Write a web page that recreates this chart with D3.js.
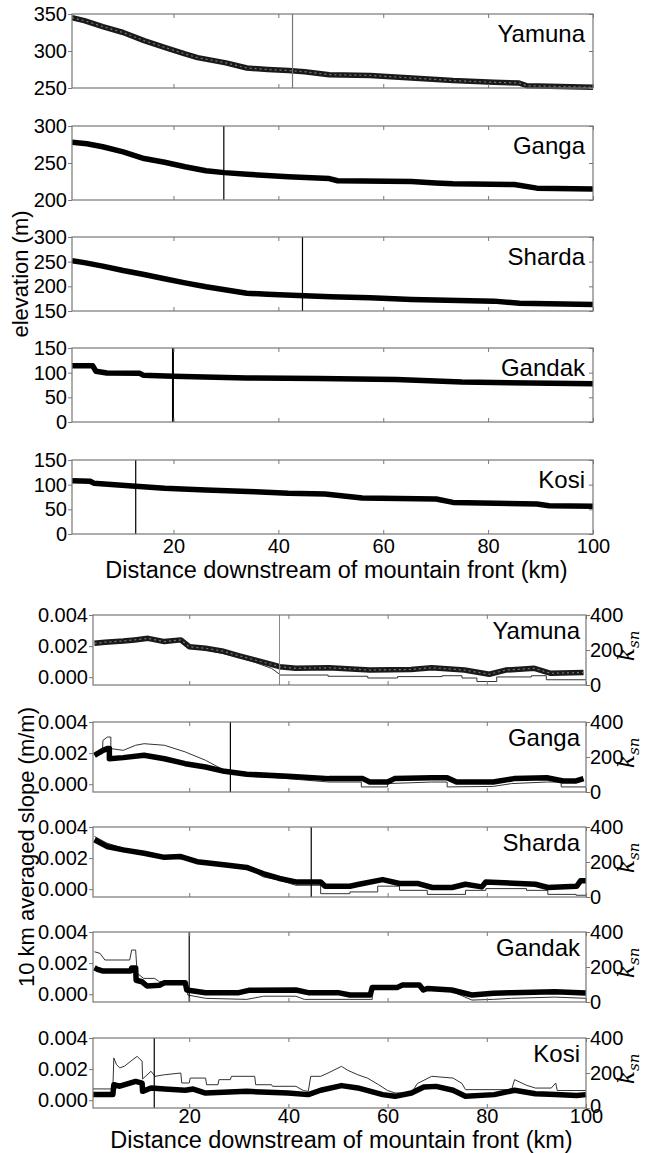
<!DOCTYPE html>
<html>
<head>
<meta charset="utf-8">
<script src="https://cdn.jsdelivr.net/npm/d3@7.9.0/dist/d3.min.js"></script>
<style>
  html, body { margin: 0; padding: 0; background: #fff; }
  svg { display: block; font-family: "Liberation Sans", Arial, sans-serif; }
</style>
</head>
<body>
<svg id="chart" width="645" height="1153"></svg>
<script>
// ---- data ----
const rivers = ['Yamuna', 'Ganga', 'Sharda', 'Gandak', 'Kosi'];

// elevation (m) vs distance (km)
const yamunaElev = [[0.65,345],[3,341],[6.5,333],[10.4,325],[14.4,314],[18.3,305],[22.2,296],[24.6,291],[30,284],[34,277],[38,275],[41.9,273.6],[45,272],[49.7,268],[57.5,267],[65.4,263.6],[73.3,260],[81.1,257.7],[85.9,256.8],[87.4,253],[100,251]];
const gangaElev = [[0.65,278],[3.5,276],[6.5,272],[10.4,265],[14.4,256],[18.3,251],[22.2,245],[26.2,239.6],[29.7,237],[34,234.7],[41.9,231.5],[49.7,229],[51.3,226],[65.4,225],[70,223],[73.3,222],[85,221],[89.3,216],[100,215]];
const shardaElev = [[0.65,252],[3,248],[6.5,241],[10.4,232],[14.4,224],[18.3,215.5],[22.2,207],[26.2,199],[30.1,192.7],[34,186],[37.9,184],[45,180.7],[50,179],[57.5,177],[65.4,173.5],[81.1,170],[86,165.5],[100,163]];
const gandakElev = [[0.65,114],[4.6,114],[5.2,103],[7.3,99.3],[13.5,99],[14.2,95],[19.9,92.7],[34,89.3],[47.7,88],[62.5,86],[75,81],[100,77.3]];
const kosiElev = [[0.65,108],[4.1,107],[4.8,103],[12.8,96.6],[18.3,92.6],[26.2,89],[35.6,85.8],[41.9,82.4],[48.9,81],[56,73],[70.1,71],[73.3,64],[89.3,60.8],[91.6,57.4],[100,56]];

// 10 km averaged slope (m/m)
const yamunaSlope = [[0.9,0.00218],[3,0.00225],[6.7,0.00233],[9,0.0024],[11.7,0.0025],[15,0.00229],[18.3,0.0024],[20,0.00196],[23.3,0.00186],[26.6,0.00169],[29.9,0.00139],[33.2,0.00111],[36.6,0.00083],[38.2,0.00068],[41.5,0.00057],[48.2,0.00061],[56.4,0.00046],[64.7,0.0005],[68.9,0.00061],[75.5,0.00046],[80.5,0.00019],[83.8,0.00046],[89.6,0.00057],[92.9,0.00025],[99.5,0.00031]];
const gangaSlope = [[0.9,0.00186],[2.6,0.00218],[3.5,0.00229],[3.9,0.00229],[3.9,0.00164],[6.7,0.00171],[10.9,0.00186],[15,0.00164],[19.2,0.00132],[23.3,0.00111],[27.1,0.00083],[31.6,0.00064],[39.9,0.00051],[48.2,0.00036],[55,0.00036],[56.4,0.00014],[60,0.00014],[61.4,0.00036],[68.9,0.00042],[72,0.00042],[73.9,0.00014],[81.3,0.00014],[85.5,0.00036],[92.1,0.00042],[95.4,0.00021],[98,0.00021],[99.5,0.00036]];
const shardaSlope = [[0.9,0.00318],[3.4,0.00275],[6.7,0.00253],[10.9,0.00231],[15,0.00205],[18.3,0.0021],[21.6,0.00177],[27.4,0.00156],[31.6,0.0014],[34.9,0.00101],[38.2,0.00069],[41.5,0.00047],[46.5,0.00047],[47.4,0.00019],[52.4,0.00019],[54,0.0003],[59,0.00062],[62.4,0.00037],[66,0.00037],[69,0.00011],[73,0.00011],[75.7,0.00032],[79,0.00015],[79.8,0.00047],[89.8,0.00032],[92.3,0.00011],[98.1,0.00019],[98.9,0.00054],[100,0.00054]];
const gandakSlope = [[0.9,0.0017],[1.5,0.0016],[2.5,0.0015],[8.2,0.0015],[8.4,0.00169],[9.2,0.00169],[9.3,0.0009],[10.5,0.0008],[11.5,0.00053],[14,0.00058],[15,0.00074],[19.2,0.00074],[19.5,0.00027],[23.3,0.0001],[30,0.0001],[32,0.00025],[41.5,0.00027],[44,0.0001],[50,0.0001],[52.4,-0.00005],[56.5,-0.00005],[56.9,0.00044],[62,0.00044],[63,0.00059],[66.4,0.00059],[67.2,0.00027],[68,0.00037],[72.9,0.00027],[77,-0.00005],[81.3,0.00006],[85,0.0001],[93.7,0.00016],[100,0.00008]];
const kosiSlope = [[0.6,0.00036],[4.6,0.00036],[4.8,0.001],[6,0.0009],[9.2,0.00121],[10.5,0.0011],[10.6,0.00057],[12.3,0.00079],[15,0.00072],[19.2,0.00064],[20.8,0.00072],[23.3,0.00046],[31.6,0.00057],[39.9,0.00046],[44,0.00036],[46.5,0.00064],[50.7,0.00094],[54,0.00079],[59,0.00036],[61.5,0.00025],[64.8,0.00046],[67.3,0.00085],[69.8,0.00089],[73.2,0.00064],[75.7,0.00025],[81.5,0.00036],[85.6,0.00064],[89.8,0.00042],[93.9,0.00036],[98.1,0.0003],[100,0.00036]];

// normalized steepness index k_sn (right axis)
const yamunaKsn = [[0.9,229],[3,236],[6,240],[9,252],[11.7,263],[15,245],[18.3,248],[20,212],[23.3,200],[26.6,181],[29.9,158],[33.2,130],[36.6,95],[38.2,62],[38.2,57],[48,57],[48,50],[56,50],[56,40],[62,40],[62,48],[71,48],[71,53],[75,53],[75,40],[78,40],[78,20],[82,20],[82,46],[89,46],[89,53],[92,53],[92,30],[100,30]];
const gangaKsn = [[0.9,219],[2.5,219],[2.6,295],[3.5,314],[4.2,314],[4.2,248],[6.7,238],[9.2,267],[10.9,276],[15,267],[19.2,229],[23.3,181],[27.1,124],[31.6,95],[39.9,76],[48.2,57],[54.7,57],[54.7,29],[60,29],[60,48],[68.9,57],[72,57],[72,29],[81.3,32],[85,48],[92.1,57],[95,57],[95,29],[100,29]];
const shardaKsn = [[0.9,346],[3.4,308],[6.7,279],[15,231],[21.6,206],[31.6,169],[34.9,115],[38.2,96],[41.5,67],[46.5,67],[46.5,19],[52.4,19],[52.4,29],[58,29],[58,62],[62.4,62],[62.4,38],[68,38],[68,15],[75.7,15],[75.7,38],[79.8,38],[79.8,48],[88,48],[88,38],[92.3,38],[92.3,15],[98,15],[98,10],[100,10]];
const gandakKsn = [[0.9,287],[2,278],[3,240],[8,240],[8.4,297],[9.2,297],[9.5,164],[10.8,135],[13,135],[14,116],[19.5,116],[19.7,40],[23.3,21],[31.6,15],[35,33],[41.5,33],[43.2,15],[52.4,15],[56.9,15],[56.9,84],[62,84],[63,97],[66.4,97],[67.2,69],[73,60],[77,11],[81.3,15],[85,21],[93.7,28],[100,21]];
const kosiKsn = [[0.6,109],[4.6,109],[4.8,286],[5.3,250],[6,229],[7,240],[8.6,276],[9.5,295],[10.5,267],[10.6,166],[12.3,210],[13.1,181],[15,190],[18.3,200],[18.5,143],[20,143],[20.2,171],[23.3,171],[23.5,133],[25.8,133],[26,162],[28.3,162],[28.5,181],[33.2,181],[33.4,133],[36.6,133],[36.8,124],[41.5,124],[43,100],[44,95],[44.5,181],[46.5,181],[48,200],[50.7,238],[52,215],[54,190],[56,170],[58.2,133],[60,100],[61.5,86],[64.8,86],[66,140],[68.9,181],[73.2,171],[75,140],[75.7,105],[85,105],[85.6,162],[88,130],[89.8,114],[93,114],[93.9,143],[94.2,100],[100,100]];

// mountain-front reference lines (km)
const elevMarks = [42.7, 29.6, 44.6, 19.9, 12.8];
const slopeMarks = [38.2, 28.3, 44.6, 20, 12.95];

// axis domains and ticks
const elevDomains = [[250, 350], [200, 300], [150, 300], [0, 150], [0, 150]];
const elevTicks = [[250, 300, 350], [200, 250, 300], [150, 200, 250, 300], [0, 50, 100, 150], [0, 50, 100, 150]];
const slopeDomain = [-0.0005, 0.004];
const slopeTicks = [0, 0.002, 0.004];
const ksnDomain = [0, 400];
const ksnTicks = [0, 200, 400];
const distTicks = [20, 40, 60, 80, 100];

const elevData = [yamunaElev, gangaElev, shardaElev, gandakElev, kosiElev];
const slopeData = [yamunaSlope, gangaSlope, shardaSlope, gandakSlope, kosiSlope];
const ksnData = [yamunaKsn, gangaKsn, shardaKsn, gandakKsn, kosiKsn];

// ---- layout ----
const svg = d3.select('#chart');
const frameColor = '#777';
const tickFont = 20;

const topX = d3.scaleLinear().domain([0.65, 100]).range([72, 593]);
const topTops = [14, 126, 237, 348, 460];
const topH = 74;

const botX = d3.scaleLinear().domain([0.6, 100]).range([93, 586]);
const botTops = [615, 722, 827, 932, 1038];
const botH = 70;

function styleAxis(g) {
    g.select('.domain').remove();
    g.selectAll('line').attr('stroke', frameColor).attr('stroke-width', 1);
    g.selectAll('text').attr('fill', '#000').attr('font-size', tickFont)
        .attr('font-family', '"Liberation Sans", Arial, sans-serif');
}

function drawThick(g, line, data, yamuna) {
    g.append('path').datum(data).attr('d', line)
        .attr('fill', 'none').attr('stroke', yamuna ? '#1a1a1a' : '#000')
        .attr('stroke-width', 5.5).attr('stroke-linejoin', 'round');
    if (yamuna) {
        // square markers show a grey core in the Yamuna trace
        g.append('path').datum(data).attr('d', line)
            .attr('fill', 'none').attr('stroke', '#777')
            .attr('stroke-width', 1.2).attr('stroke-dasharray', '2,3');
    }
}

// ---- elevation panels ----
rivers.forEach((name, i) => {
    const top = topTops[i], bottom = top + topH;
    const y = d3.scaleLinear().domain(elevDomains[i]).range([bottom, top]);
    const g = svg.append('g');

    const clipId = 'clipE' + i;
    g.append('clipPath').attr('id', clipId).append('rect')
        .attr('x', topX.range()[0]).attr('y', top - 3)
        .attr('width', topX.range()[1] - topX.range()[0] + 3).attr('height', topH + 6);

    const line = d3.line().x(d => topX(d[0])).y(d => y(d[1]));
    const body = g.append('g').attr('clip-path', `url(#${clipId})`);
    drawThick(body, line, elevData[i], i === 0);

    g.append('line')
        .attr('x1', topX(elevMarks[i])).attr('x2', topX(elevMarks[i]))
        .attr('y1', top).attr('y2', bottom)
        .attr('stroke', i === 0 ? '#777' : '#000').attr('stroke-width', i === 3 ? 2 : 1.2);

    g.append('rect').attr('x', topX.range()[0]).attr('y', top)
        .attr('width', topX.range()[1] - topX.range()[0]).attr('height', topH)
        .attr('fill', 'none').attr('stroke', frameColor).attr('stroke-width', 1.2);

    g.append('g').attr('transform', `translate(${topX.range()[0]},0)`)
        .call(d3.axisLeft(y).tickValues(elevTicks[i]).tickSize(4).tickPadding(1).tickFormat(d3.format('d')))
        .call(styleAxis);
    g.append('g').attr('transform', `translate(${topX.range()[1]},0)`)
        .call(d3.axisRight(y).tickValues(elevTicks[i]).tickSize(-4).tickFormat(''))
        .call(styleAxis);
    g.append('g').attr('transform', `translate(0,${top})`)
        .call(d3.axisTop(topX).tickValues(distTicks).tickSize(-4).tickFormat(''))
        .call(styleAxis);
    const xb = g.append('g').attr('transform', `translate(0,${bottom})`)
        .call(d3.axisBottom(topX).tickValues(distTicks).tickSizeInner(-4).tickPadding(5)
            .tickFormat(i === 4 ? d3.format('d') : ''))
        .call(styleAxis);
    xb.selectAll('text').attr('dy', '0.71em');

    g.append('text').attr('x', 585).attr('y', top + 28)
        .attr('text-anchor', 'end').attr('font-size', 24).text(name);
});

svg.append('text').attr('x', (72 + 593) / 2 + 4).attr('y', 578)
    .attr('text-anchor', 'middle').attr('font-size', 23.5)
    .text('Distance downstream of mountain front (km)');
svg.append('text')
    .attr('transform', 'translate(28,274) rotate(-90)')
    .attr('text-anchor', 'middle').attr('font-size', 22)
    .text('elevation (m)');

// ---- slope / k_sn panels ----
rivers.forEach((name, i) => {
    const top = botTops[i], bottom = top + botH;
    const yL = d3.scaleLinear().domain(slopeDomain).range([bottom, top]);
    const yR = d3.scaleLinear().domain(ksnDomain).range([bottom, top]);
    const g = svg.append('g');

    const clipId = 'clipS' + i;
    g.append('clipPath').attr('id', clipId).append('rect')
        .attr('x', botX.range()[0]).attr('y', top - 3)
        .attr('width', botX.range()[1] - botX.range()[0] + 3).attr('height', botH + 6);
    const body = g.append('g').attr('clip-path', `url(#${clipId})`);

    const ksnLine = d3.line().x(d => botX(d[0])).y(d => yR(d[1]));
    body.append('path').datum(ksnData[i]).attr('d', ksnLine)
        .attr('fill', 'none').attr('stroke', '#333').attr('stroke-width', 1);

    const slopeLine = d3.line().x(d => botX(d[0])).y(d => yL(d[1]));
    drawThick(body, slopeLine, slopeData[i], i === 0);

    g.append('line')
        .attr('x1', botX(slopeMarks[i])).attr('x2', botX(slopeMarks[i]))
        .attr('y1', top).attr('y2', bottom)
        .attr('stroke', i === 0 ? '#888' : '#000').attr('stroke-width', i === 0 ? 1 : 1.2);

    g.append('rect').attr('x', botX.range()[0]).attr('y', top)
        .attr('width', botX.range()[1] - botX.range()[0]).attr('height', botH)
        .attr('fill', 'none').attr('stroke', frameColor).attr('stroke-width', 1.2);

    g.append('g').attr('transform', `translate(${botX.range()[0]},0)`)
        .call(d3.axisLeft(yL).tickValues(slopeTicks).tickSize(4).tickPadding(1).tickFormat(d3.format('.3f')))
        .call(styleAxis);
    const ra = g.append('g').attr('transform', `translate(${botX.range()[1]},0)`)
        .call(d3.axisRight(yR).tickValues(ksnTicks).tickSize(4).tickPadding(0).tickFormat(d3.format('d')))
        .call(styleAxis);
    if (i === 4) ra.selectAll('text').filter(d => d === 0).attr('dy', '0.2em');
    g.append('g').attr('transform', `translate(0,${top})`)
        .call(d3.axisTop(botX).tickValues(distTicks).tickSize(-4).tickFormat(''))
        .call(styleAxis);
    const xb = g.append('g').attr('transform', `translate(0,${bottom})`)
        .call(d3.axisBottom(botX).tickValues(distTicks).tickSizeInner(-4).tickPadding(1)
            .tickFormat(i === 4 ? d3.format('d') : ''))
        .call(styleAxis);
    xb.selectAll('text').attr('dy', '0.71em');

    g.append('text').attr('x', 580).attr('y', top + 24)
        .attr('text-anchor', 'end').attr('font-size', 24).text(name);

    // k_sn label on the right axis
    const k = g.append('text')
        .attr('transform', `translate(634,${top + botH / 2 - 4}) rotate(-90)`)
        .attr('text-anchor', 'middle')
        .attr('font-family', '"DejaVu Serif", "Liberation Serif", serif')
        .attr('font-style', 'italic');
    k.append('tspan').attr('font-size', 22).text('k');
    k.append('tspan').attr('font-size', 15).attr('dy', 5).text('sn');
});

svg.append('text').attr('x', (93 + 586) / 2 + 2).attr('y', 1148)
    .attr('text-anchor', 'middle').attr('font-size', 23.5)
    .text('Distance downstream of mountain front (km)');
svg.append('text')
    .attr('transform', 'translate(34,847) rotate(-90)')
    .attr('text-anchor', 'middle').attr('font-size', 22)
    .text('10 km averaged slope (m/m)');
</script>
</body>
</html>
